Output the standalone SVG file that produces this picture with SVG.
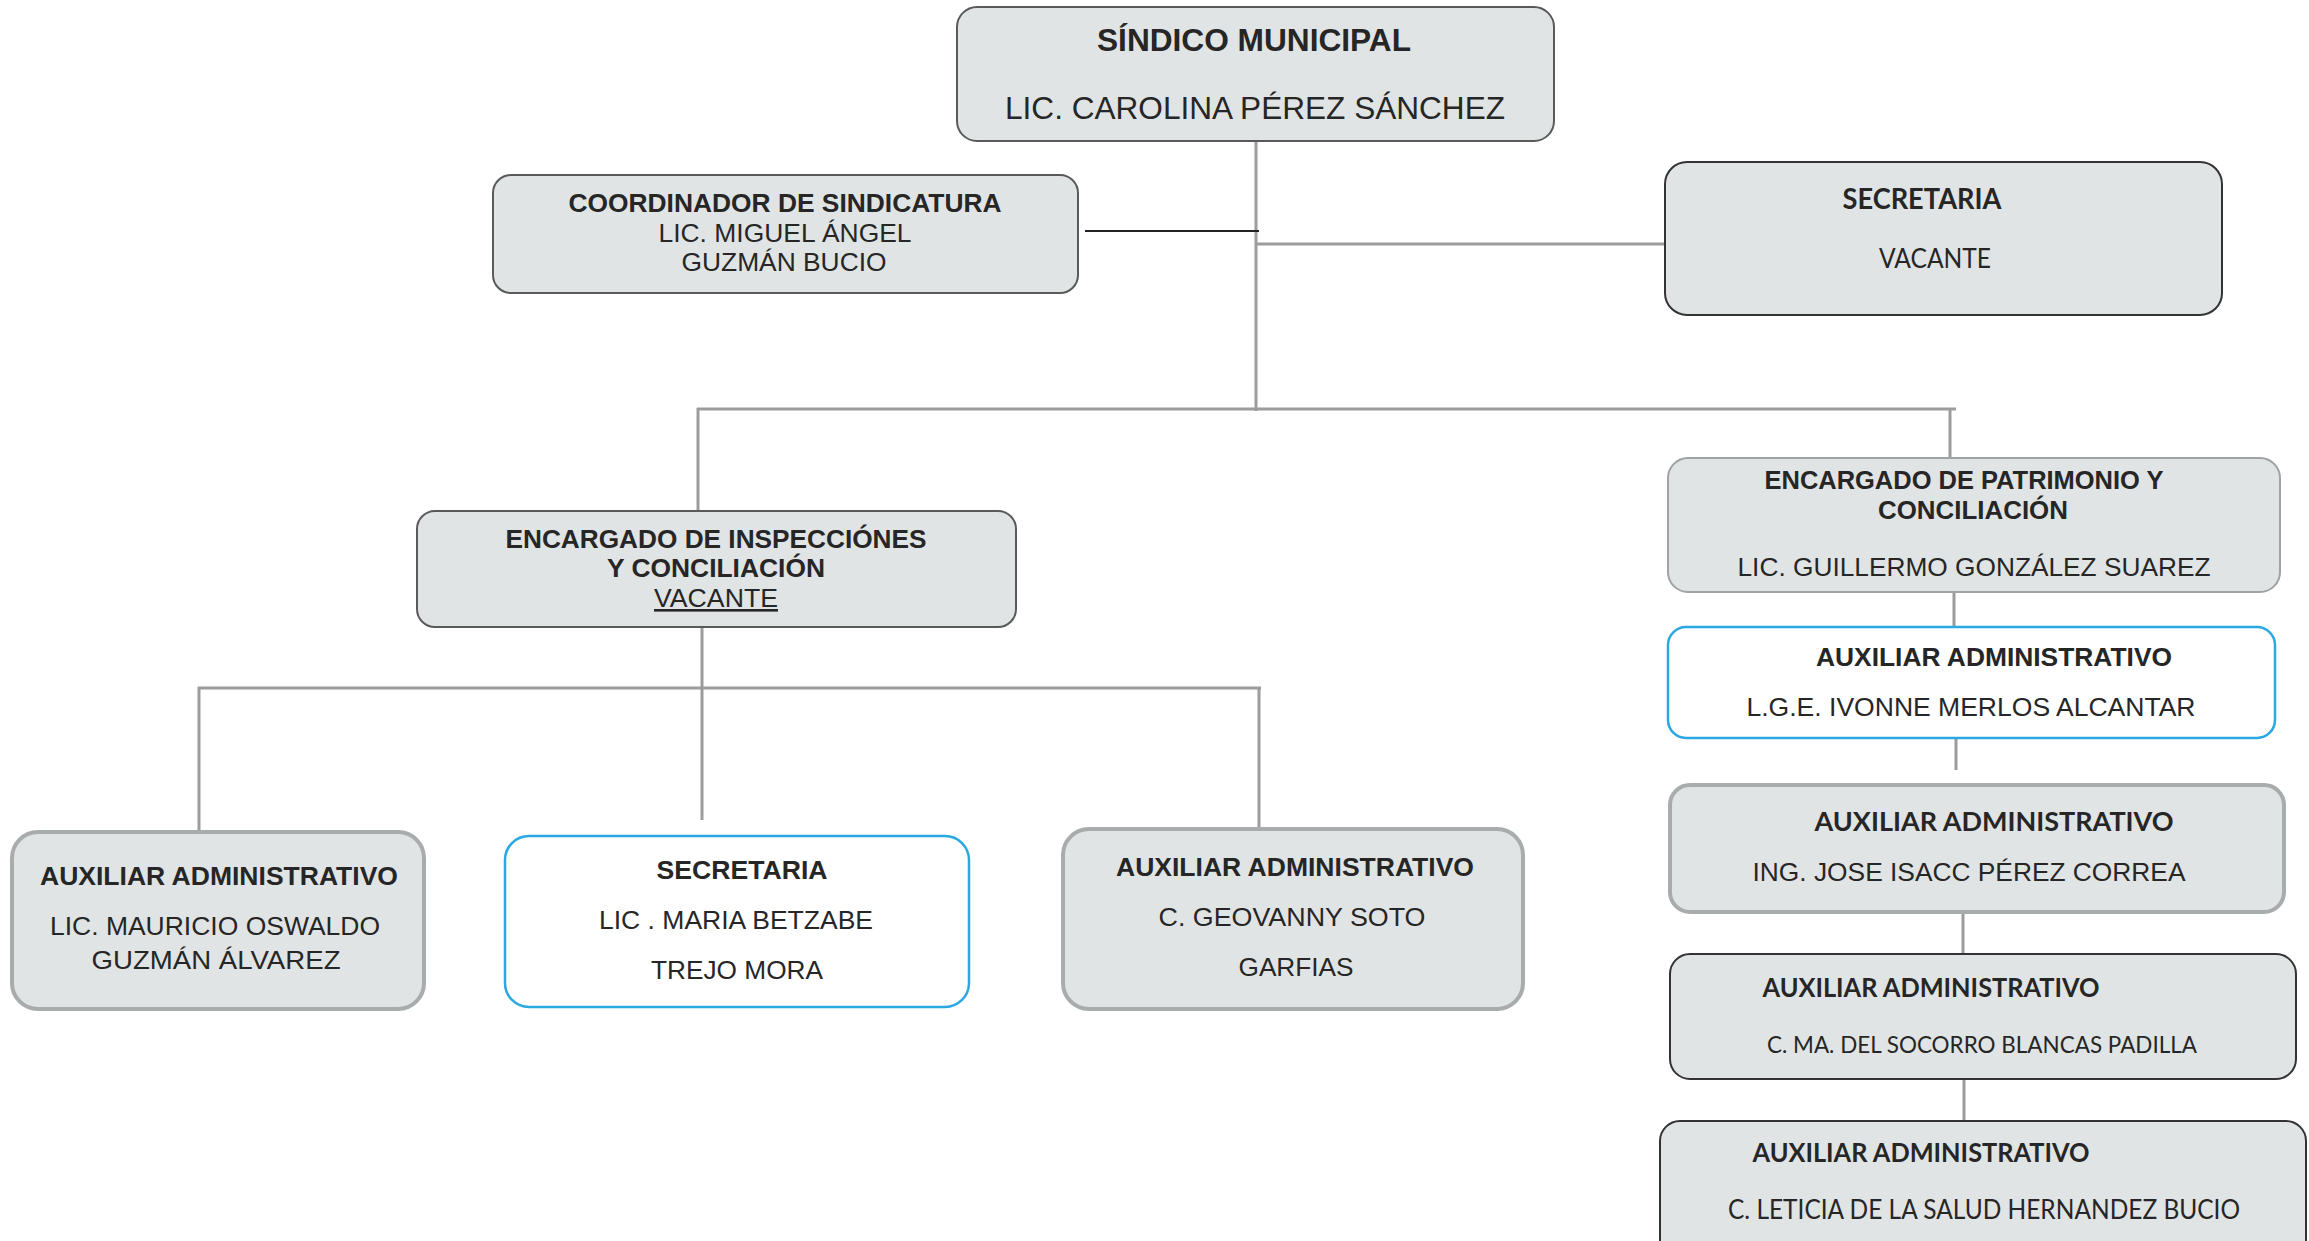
<svg xmlns="http://www.w3.org/2000/svg" width="2309" height="1241" viewBox="0 0 2309 1241">
<style>
.box{fill:#e1e4e4;stroke:#5a5a5a;stroke-width:2}
.dark{fill:#e1e4e4;stroke:#333;stroke-width:2}
.soft{fill:#e1e4e4;stroke:#a9acac;stroke-width:4}
.blue{fill:#ffffff;stroke:#2aa8e2;stroke-width:2.5}
.conn{stroke:#9c9c9c;stroke-width:3;fill:none}
.black{stroke:#222;stroke-width:2;fill:none}
text{fill:#262626;text-anchor:middle}
.a{font-family:"Liberation Sans",Arial,sans-serif}
.c{font-family:Lato,"Noto Sans",sans-serif}
.b{font-weight:bold}
</style>
<rect width="2309" height="1241" fill="#ffffff"/>
<g id="connectors">
<line class="conn" x1="1256" y1="141" x2="1256" y2="411"/>
<line class="black" x1="1085" y1="231" x2="1259" y2="231"/>
<line class="conn" x1="1256" y1="244" x2="1665" y2="244"/>
<line class="conn" x1="697" y1="409" x2="1956" y2="409"/>
<line class="conn" x1="698" y1="408" x2="698" y2="511"/>
<line class="conn" x1="1950" y1="408" x2="1950" y2="458"/>
<line class="conn" x1="702" y1="627" x2="702" y2="820"/>
<line class="conn" x1="198" y1="688" x2="1261" y2="688"/>
<line class="conn" x1="199" y1="687" x2="199" y2="832"/>
<line class="conn" x1="1259" y1="687" x2="1259" y2="829"/>
<line class="conn" x1="1954" y1="592" x2="1954" y2="627"/>
<line class="conn" x1="1956" y1="738" x2="1956" y2="770"/>
<line class="conn" x1="1963" y1="912" x2="1963" y2="954"/>
<line class="conn" x1="1964" y1="1079" x2="1964" y2="1121"/>
</g>
<g id="sindico">
<rect class="box" x="957" y="7" width="597" height="134" rx="20"/>
<text class="a b" x="1254" y="51" font-size="31" textLength="314" lengthAdjust="spacingAndGlyphs">SÍNDICO MUNICIPAL</text>
<text class="a" x="1255" y="119" font-size="31" textLength="500" lengthAdjust="spacingAndGlyphs">LIC. CAROLINA PÉREZ SÁNCHEZ</text>
</g>
<g id="coordinador">
<rect class="box" x="493" y="175" width="585" height="118" rx="18"/>
<text class="a b" x="785" y="212" font-size="26" textLength="433" lengthAdjust="spacingAndGlyphs">COORDINADOR DE SINDICATURA</text>
<text class="a" x="785" y="242" font-size="26" textLength="253" lengthAdjust="spacingAndGlyphs">LIC. MIGUEL ÁNGEL</text>
<text class="a" x="784" y="271" font-size="26" textLength="205" lengthAdjust="spacingAndGlyphs">GUZMÁN BUCIO</text>
</g>
<g id="secretaria-top">
<rect class="dark" x="1665" y="162" width="557" height="153" rx="22"/>
<text class="c b" x="1922" y="209" font-size="28" textLength="159" lengthAdjust="spacingAndGlyphs">SECRETARIA</text>
<text class="c" x="1935" y="268" font-size="26" textLength="112" lengthAdjust="spacingAndGlyphs">VACANTE</text>
</g>
<g id="inspecciones">
<rect class="box" x="417" y="511" width="599" height="116" rx="18"/>
<text class="a b" x="716" y="548" font-size="26" textLength="421" lengthAdjust="spacingAndGlyphs">ENCARGADO DE INSPECCIÓNES</text>
<text class="a b" x="716" y="577" font-size="26" textLength="218" lengthAdjust="spacingAndGlyphs">Y CONCILIACIÓN</text>
<text class="a" x="716" y="607" font-size="26" textLength="124" lengthAdjust="spacingAndGlyphs" text-decoration="underline">VACANTE</text>
</g>
<g id="patrimonio">
<rect class="box" x="1668" y="458" width="612" height="134" rx="20" style="stroke:#a0a3a3"/>
<text class="a b" x="1964" y="489" font-size="26" textLength="399" lengthAdjust="spacingAndGlyphs">ENCARGADO DE PATRIMONIO Y</text>
<text class="a b" x="1973" y="519" font-size="26" textLength="190" lengthAdjust="spacingAndGlyphs">CONCILIACIÓN</text>
<text class="a" x="1974" y="576" font-size="26" textLength="473" lengthAdjust="spacingAndGlyphs">LIC. GUILLERMO GONZÁLEZ SUAREZ</text>
</g>
<g id="aux-ivonne">
<rect class="blue" x="1668" y="627" width="607" height="111" rx="18"/>
<text class="a b" x="1994" y="666" font-size="25" textLength="356" lengthAdjust="spacingAndGlyphs">AUXILIAR ADMINISTRATIVO</text>
<text class="a" x="1971" y="716" font-size="26" textLength="449" lengthAdjust="spacingAndGlyphs">L.G.E. IVONNE MERLOS ALCANTAR</text>
</g>
<g id="aux-jose">
<rect class="soft" x="1670" y="785" width="614" height="127" rx="20"/>
<text class="c b" x="1994" y="831" font-size="27" textLength="359" lengthAdjust="spacingAndGlyphs">AUXILIAR ADMINISTRATIVO</text>
<text class="a" x="1969" y="881" font-size="26" textLength="433" lengthAdjust="spacingAndGlyphs">ING. JOSE ISACC PÉREZ CORREA</text>
</g>
<g id="aux-socorro">
<rect class="dark" x="1670" y="954" width="626" height="125" rx="20"/>
<text class="c b" x="1931" y="997" font-size="27" textLength="337" lengthAdjust="spacingAndGlyphs">AUXILIAR ADMINISTRATIVO</text>
<text class="c" x="1982" y="1053" font-size="24" textLength="430" lengthAdjust="spacingAndGlyphs">C. MA. DEL SOCORRO BLANCAS PADILLA</text>
</g>
<g id="aux-leticia">
<rect class="dark" x="1660" y="1121" width="646" height="140" rx="20"/>
<text class="c b" x="1921" y="1162" font-size="27" textLength="337" lengthAdjust="spacingAndGlyphs">AUXILIAR ADMINISTRATIVO</text>
<text class="c" x="1984" y="1219" font-size="26" textLength="512" lengthAdjust="spacingAndGlyphs">C. LETICIA DE LA SALUD HERNANDEZ BUCIO</text>
</g>
<g id="aux-mauricio">
<rect class="soft" x="12" y="832" width="412" height="177" rx="26"/>
<text class="a b" x="219" y="885" font-size="25" textLength="358" lengthAdjust="spacingAndGlyphs">AUXILIAR ADMINISTRATIVO</text>
<text class="a" x="215" y="935" font-size="26" textLength="330" lengthAdjust="spacingAndGlyphs">LIC. MAURICIO OSWALDO</text>
<text class="a" x="216" y="969" font-size="26" textLength="249" lengthAdjust="spacingAndGlyphs">GUZMÁN  ÁLVAREZ</text>
</g>
<g id="secretaria-mid">
<rect class="blue" x="505" y="836" width="464" height="171" rx="24"/>
<text class="a b" x="742" y="879" font-size="26" textLength="171" lengthAdjust="spacingAndGlyphs">SECRETARIA</text>
<text class="a" x="736" y="929" font-size="26" textLength="274" lengthAdjust="spacingAndGlyphs">LIC . MARIA BETZABE</text>
<text class="a" x="737" y="979" font-size="26" textLength="172" lengthAdjust="spacingAndGlyphs">TREJO MORA</text>
</g>
<g id="aux-geovanny">
<rect class="soft" x="1063" y="829" width="460" height="180" rx="26"/>
<text class="a b" x="1295" y="876" font-size="25" textLength="358" lengthAdjust="spacingAndGlyphs">AUXILIAR ADMINISTRATIVO</text>
<text class="a" x="1292" y="926" font-size="26" textLength="267" lengthAdjust="spacingAndGlyphs">C. GEOVANNY SOTO</text>
<text class="a" x="1296" y="976" font-size="26" textLength="115" lengthAdjust="spacingAndGlyphs">GARFIAS</text>
</g>
</svg>
